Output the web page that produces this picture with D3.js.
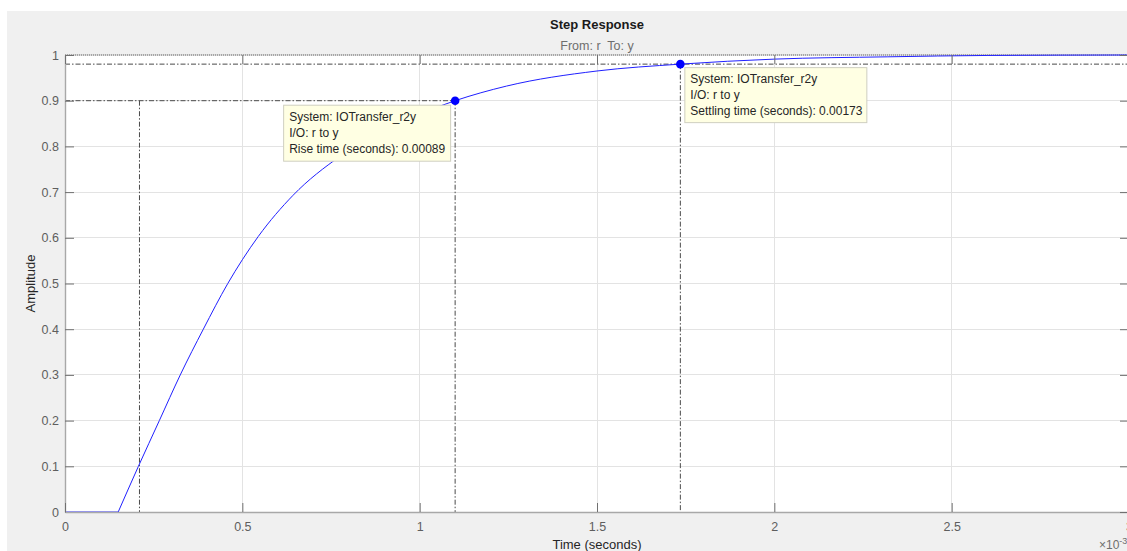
<!DOCTYPE html>
<html>
<head>
<meta charset="utf-8">
<script src="https://cdn.jsdelivr.net/npm/d3@7"></script>
<style>
html,body{margin:0;padding:0;background:#fff;overflow:hidden;}
svg{display:block;font-family:"Liberation Sans",Arial,Helvetica,sans-serif;}
</style>
</head>
<body>
<svg id="chart" width="1127" height="551"></svg>
<script>
// ---- data (time in ms, i.e. ×10^-3 s) ----
const timeMs    = [0.15, 0.207, 0.266, 0.325, 0.39, 0.459, 0.5,   0.545, 0.643, 0.775, 0.9,   1.0,   1.1, 1.245, 1.5,   1.735, 2.0,   2.32,  2.6,   3.0];
const amplitude = [0,    0.1,   0.2,   0.3,   0.4,  0.5,   0.552, 0.603, 0.693, 0.778, 0.836, 0.871, 0.9, 0.932, 0.965, 0.98,  0.991, 0.996, 0.999, 1.0];
const deadTime  = [0, 0.15];
const xTicks = [0, 0.5, 1, 1.5, 2, 2.5, 3];
const yTicks = [0, 0.1, 0.2, 0.3, 0.4, 0.5, 0.6, 0.7, 0.8, 0.9, 1];
const riseStart = 0.21, riseEnd = 1.10, riseLow = 0.1, riseHigh = 0.9;
const settleTime = 1.735, settleLevel = 0.98, finalValue = 1;
const riseText = ["System: IOTransfer_r2y", "I/O: r to y", "Rise time (seconds): 0.00089"];
const settleText = ["System: IOTransfer_r2y", "I/O: r to y", "Settling time (seconds): 0.00173"];

const svg = d3.select("#chart");
const W = 1127, H = 551;
const L = 65, R = 1129, T = 55, B = 512;

// figure background
svg.append("rect").attr("x", 7).attr("y", 11).attr("width", W).attr("height", H).attr("fill", "#f0f0f0");
svg.append("rect").attr("x", L).attr("y", T).attr("width", R - L).attr("height", B - T).attr("fill", "#fff");

const x = d3.scaleLinear().domain([0, 3]).range([L, R]);
const y = d3.scaleLinear().domain([0, 1]).range([B, T]);

// grid
svg.append("g").selectAll("line").data(yTicks.filter(d => d > 0 && d < 1)).join("line")
  .attr("x1", L).attr("x2", R).attr("y1", d => y(d)).attr("y2", d => y(d))
  .attr("stroke", "#e3e3e3").attr("stroke-width", 1).attr("shape-rendering", "crispEdges");
svg.append("g").selectAll("line").data(xTicks.filter(d => d > 0 && d < 3)).join("line")
  .attr("y1", T).attr("y2", B).attr("x1", d => x(d)).attr("x2", d => x(d))
  .attr("stroke", "#e3e3e3").attr("stroke-width", 1).attr("shape-rendering", "crispEdges");

// dotted steady-state line / top border
svg.append("line").attr("x1", L).attr("x2", R).attr("y1", y(finalValue)).attr("y2", y(finalValue))
  .attr("stroke", "#c4c4c4").attr("stroke-width", 1);
svg.append("line").attr("x1", L).attr("x2", R).attr("y1", y(finalValue)).attr("y2", y(finalValue))
  .attr("stroke", "#707070").attr("stroke-width", 1).attr("stroke-dasharray", "1,1");

// characteristic lines (dash-dot)
const dd = "5,2,1.5,2";
const cg = svg.append("g").attr("stroke", "#4a4a4a").attr("stroke-width", 1).attr("stroke-dasharray", dd).attr("fill", "none");
cg.append("line").attr("x1", L).attr("x2", x(riseEnd)).attr("y1", y(riseHigh)).attr("y2", y(riseHigh));
cg.append("line").attr("x1", x(riseStart)).attr("x2", x(riseStart)).attr("y1", y(riseHigh)).attr("y2", B);
cg.append("line").attr("x1", x(riseEnd)).attr("x2", x(riseEnd)).attr("y1", y(riseHigh)).attr("y2", B);
cg.append("line").attr("x1", L).attr("x2", R).attr("y1", y(settleLevel)).attr("y2", y(settleLevel));
cg.append("line").attr("x1", x(settleTime)).attr("x2", x(settleTime)).attr("y1", y(settleLevel)).attr("y2", B);

// response curve
const pts = timeMs.map((t, i) => [t, amplitude[i]]);
svg.append("path").datum(deadTime.map(t => [t, 0]))
  .attr("d", d3.line().x(d => x(d[0])).y(d => y(d[1])))
  .attr("fill", "none").attr("stroke", "#2020ff").attr("stroke-width", 1);
svg.append("path").datum(pts)
  .attr("d", d3.line().x(d => x(d[0])).y(d => y(d[1])).curve(d3.curveMonotoneX))
  .attr("fill", "none").attr("stroke", "#2020ff").attr("stroke-width", 1);

// axes
const axL = svg.append("g").attr("transform", `translate(${L},0)`)
  .call(d3.axisLeft(y).tickValues(yTicks).tickFormat(d3.format("~g")).tickSizeInner(-9).tickSizeOuter(0).tickPadding(6));
const axB = svg.append("g").attr("transform", `translate(0,${B})`)
  .call(d3.axisBottom(x).tickValues(xTicks).tickFormat(d3.format("~g")).tickSizeInner(-9).tickSizeOuter(0).tickPadding(10));
const axT = svg.append("g").attr("transform", `translate(0,${T})`)
  .call(d3.axisTop(x).tickValues(xTicks).tickFormat("").tickSizeInner(-9).tickSizeOuter(0));
const axR = svg.append("g").attr("transform", `translate(${R},0)`)
  .call(d3.axisRight(y).tickValues(yTicks).tickFormat("").tickSizeInner(-9).tickSizeOuter(0));
[axL, axB].forEach(g => {
  g.select(".domain").attr("stroke", "#a8a8a8").attr("stroke-width", 1.4);
  g.selectAll(".tick line").attr("stroke", "#707070");
  g.selectAll(".tick text").attr("fill", "#5e5e5e").attr("font-size", "12.5px").attr("font-family", "Liberation Sans, Arial, sans-serif");
});
[axT, axR].forEach(g => {
  g.select(".domain").remove();
  g.selectAll(".tick line").attr("stroke", "#707070");
});

// markers
const marks = [[riseEnd, riseHigh], [settleTime, settleLevel]];
svg.append("g").selectAll("circle").data(marks).join("circle")
  .attr("cx", d => x(d[0])).attr("cy", d => y(d[1])).attr("r", 4.3).attr("fill", "#0000ff");

// data tips
function tip(px, py, w, h, lines) {
  const g = svg.append("g");
  g.append("rect").attr("x", px + 0.5).attr("y", py + 0.5).attr("width", w).attr("height", h)
    .attr("fill", "#ffffe3").attr("stroke", "#cfcfc0").attr("stroke-width", 1);
  g.selectAll("text").data(lines).join("text")
    .attr("x", px + 6).attr("y", (d, i) => py + 16 + i * 16)
    .attr("font-size", "12px").attr("fill", "#262626").text(d => d);
}
tip(x(riseEnd) - 172, y(riseHigh) + 4, 167, 56, riseText);
tip(x(settleTime) + 4, y(settleLevel) + 3, 182, 55, settleText);

// titles
svg.append("text").attr("x", (L + R) / 2).attr("y", 29).attr("text-anchor", "middle")
  .attr("font-size", "13px").attr("font-weight", "bold").attr("fill", "#1a1a1a").text("Step Response");
svg.append("text").attr("x", (L + R) / 2).attr("y", 50).attr("text-anchor", "middle")
  .attr("font-size", "12.5px").attr("fill", "#6e6e6e").attr("xml:space", "preserve").text("From: r  To: y");
svg.append("text").attr("x", (L + R) / 2).attr("y", 549).attr("text-anchor", "middle")
  .attr("font-size", "13px").attr("fill", "#262626").text("Time (seconds)");
svg.append("text").attr("transform", `translate(35,${(T + B) / 2}) rotate(-90)`).attr("text-anchor", "middle")
  .attr("font-size", "13px").attr("fill", "#262626").text("Amplitude");
const ex = svg.append("text").attr("x", 1099).attr("y", 549).attr("font-size", "12px").attr("fill", "#6e6e6e");
ex.append("tspan").text("×10");
ex.append("tspan").attr("dy", -5).attr("font-size", "9px").text("-3");
</script>
</body>
</html>
